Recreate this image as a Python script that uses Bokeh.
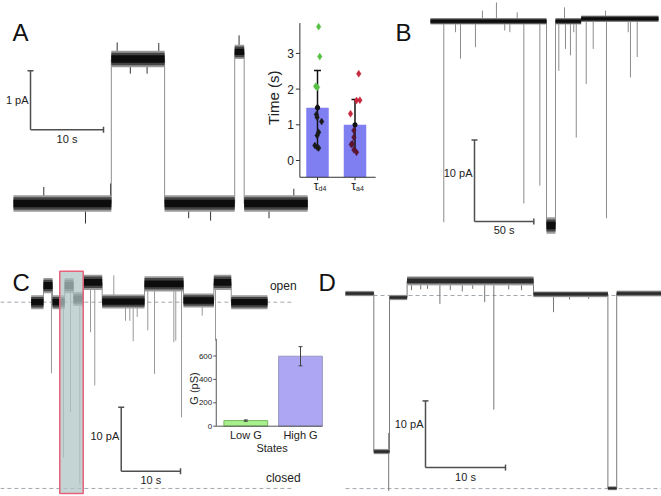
import numpy as np
from bokeh.plotting import figure
from bokeh.models import Range1d
from bokeh.core.properties import value
from bokeh.embed import file_html
from bokeh.resources import INLINE

FONT = "Liberation Sans"

# ======================= DATA =======================
# ---- Panel A: current trace as step levels (time s, current pA)
a_seg_start = [0.0, 13.4, 20.7, 30.3, 31.6]
a_seg_end = [13.4, 20.7, 30.3, 31.6, 40.3]
a_seg_level = [0.0, 2.45, 0.0, 2.57, 0.0]
a_seg_noise = [0.14, 0.14, 0.14, 0.12, 0.14]
a_spike_t = [4.15, 9.86, 13.3, 14.2, 16.0, 18.3, 19.9, 24.0, 27.0, 30.9, 35.0, 38.4]
a_spike_tip = [0.28, -0.34, 0.34, 2.73, 2.2, 2.2, 2.72, -0.25, -0.29, 2.85, -0.25, 0.25]

# ---- Panel A inset: dwell times (s)
a_groups = ["d4", "a4"]
a_mean = [1.48, 1.00]
a_sd = [1.04, 0.71]
a_d4_val = [3.75, 2.91, 2.08, 2.05, 1.49, 1.29, 1.21, 1.09, 0.79, 0.70, 0.42, 0.37, 0.35]
a_d4_jit = [0.03, 0.06, -0.05, 0.0, 0.0, -0.03, -0.01, 0.11, 0.03, -0.01, -0.07, -0.01, 0.03]
a_a4_val = [2.43, 1.68, 1.69, 1.31, 0.84, 0.65, 0.47, 0.45, 0.30, 0.23]
a_a4_jit = [0.10, 0.04, 0.13, -0.12, -0.03, -0.03, -0.07, -0.10, -0.03, 0.04]
a_ticks = [0, 1, 2, 3]

# ---- Panel B: trace (time s, current pA)
b_seg_start = [0.0, 97.8, 105.4, 127.0]
b_seg_end = [97.8, 105.4, 127.0, 192.2]
b_seg_level = [0.0, -25.1, 0.0, 0.3]
b_seg_noise = [0.4, 1.0, 0.4, 0.4]
b_spike_t = [11.2, 21.1, 25.3, 37.9, 43.8, 55.6, 62.6, 66.9, 73.1, 78.7, 92.2, 108.2,
             113.0, 113.8, 118.0, 120.8, 122.9, 131.3, 137.2, 147.6, 148.4, 166.7, 168.6, 174.3]
b_spike_tip = [-24.7, -1.35, -4.6, -3.2, 1.3, 2.3, -1.15, -1.35, 1.1, -22.4, -20.2, -6.1,
               1.7, -3.4, -4.2, -1.35, -14.3, -7.7, -3.4, 1.3, -24.2, -1.35, -6.9, -4.4]

# ---- Panel C: trace (time s, current pA)
c_seg_start = [0.0, 2.07, 3.59, 5.64, 7.13, 8.77, 11.97, 19.11, 25.68, 30.8, 33.73]
c_seg_end = [2.07, 3.59, 5.64, 7.13, 8.77, 11.97, 19.11, 25.68, 30.8, 33.73, 39.85]
c_seg_level = [0.0, 2.6, 0.0, 2.6, 0.5, 3.1, 0.1, 2.87, 0.27, 3.1, 0.0]
c_seg_noise = [1.1, 1.2, 1.1, 1.2, 1.1, 1.2, 1.1, 1.2, 1.1, 1.2, 1.1]
c_spike_t = [3.42, 5.45, 6.63, 8.2, 10.0, 10.72, 13.93, 15.9, 16.63, 17.2, 17.88, 19.66,
             20.79, 24.05, 24.38, 25.35, 28.84, 31.08]
c_spike_tip = [-11.1, -24.3, -17.2, -28.5, -4.7, -13.0, 4.2, -2.9, -2.9, -6.1, -2.3, -4.4,
               -11.2, -6.25, -6.0, -18.0, -2.1, -6.0]
c_open, c_closed = 0.0, -29.1
c_hl_t = [4.82, 8.77]
c_hl_i = [-29.9, 4.84]

# ---- Panel C inset: conductance states
c_states = ["Low G", "High G"]
c_cond = [48, 598]
c_cond_err = [6, 82]
c_ticks = [0, 200, 400, 600]

# ---- Panel D: trace (time s, current pA)
d_seg_start = [0.0, 3.54, 5.5, 7.7, 23.5, 32.8, 33.9]
d_seg_end = [3.54, 5.5, 7.7, 23.5, 32.8, 33.9, 39.5]
d_seg_level = [0.3, -23.4, -0.3, 2.2, 0.2, -28.9, 0.3]
d_seg_noise = [0.4, 0.4, 0.4, 0.7, 0.45, 0.3, 0.45]
d_spike_t = [5.4, 5.4, 8.25, 9.4, 10.25, 11.8, 13.1, 14.6, 15.9, 17.4, 18.54, 20.4, 22.0,
             26.0, 28.0, 30.4]
d_spike_tip = [-29.3, -20.6, 0.8, 0.9, 1.0, -1.25, 0.8, 0.6, 1.0, -1.0, -17.1, 0.9, 0.8,
               -2.5, -0.6, -0.5]
d_open, d_closed = 0.0, -28.95

# ======================= LAYOUT =======================
W, H = 661, 496
X0, Y0 = 0, 0  # page offset of the frame (template has no body margin)


def xr(px0, pps):
    return Range1d((X0 - px0) / pps, (X0 + W - px0) / pps)


def yr(py0, ppu):
    return Range1d((py0 - (Y0 + H)) / ppu, (py0 - Y0) / ppu)


GEOM = {
    "a": (13, 7.3, 203, 59.0),
    "ia": (317, 37.5, 160, 35.7),
    "b": (430, 1.186, 20.7, 8.14),
    "c": (30.7, 5.93, 301.7, 6.4),
    "ic": (245.3, 54.7, 425.7, 0.117),
    "d": (345, 8.0, 295, 6.67),
}

p = figure(width=W, height=H, x_range=Range1d(X0, X0 + W), y_range=Range1d(Y0 + H, Y0),
           output_backend="svg", toolbar_location=None, min_border=0,
           x_axis_location=None, y_axis_location=None)
p.grid.visible = False
p.outline_line_color = None
p.background_fill_color = "white"
p.border_fill_color = "white"
p.extra_x_ranges = {k: xr(g[0], g[1]) for k, g in GEOM.items()}
p.extra_y_ranges = {k: yr(g[2], g[3]) for k, g in GEOM.items()}


def R(n):
    return dict(x_range_name=n, y_range_name=n)


def txt(rn, x, y, t, size, **kw):
    kw.setdefault("text_color", "#222222")
    if rn is None:
        p.text(x=x, y=y, text=t, text_font=value(FONT), text_font_size=size, **kw)
    else:
        p.text(x=x, y=y, text=t, text_font=value(FONT), text_font_size=size, **R(rn), **kw)


def draw_trace(rn, starts, ends, levels, noise, spike_t, spike_tip,
               core="#0d0d0d", mid="#444444", edge="#9a9a9a", step="#8f8f8f",
               spike_col="#8c8c8c"):
    s = np.asarray(starts, float)
    e = np.asarray(ends, float)
    lv = np.asarray(levels, float)
    n = np.asarray(noise, float)
    st = np.asarray(spike_t, float)
    idx = np.clip(np.searchsorted(e, st), 0, len(lv) - 1)
    base = lv[idx]
    p.segment(x0=st, y0=base, x1=st, y1=spike_tip, line_color=spike_col, line_width=1, **R(rn))
    p.segment(x0=e[:-1], y0=lv[:-1], x1=e[:-1], y1=lv[1:], line_color=step, line_width=1, **R(rn))
    for frac, col in ((1.0, edge), (0.75, mid), (0.45, core)):
        p.quad(left=s, right=e, bottom=lv - frac * n, top=lv + frac * n, fill_color=col,
               line_color=None, **R(rn))


def scalebar(rn, t0, i0, dt, di, tlabel, ilabel, idy=0):
    col = "#4f4f4f"
    p.segment(x0=[t0, t0], y0=[i0, i0], x1=[t0 + dt, t0], y1=[i0, i0 + di],
              line_color=col, line_width=1.5, **R(rn))
    p.scatter(x=[t0 + dt], y=[i0], marker="dash", angle=np.pi / 2, size=6,
              line_color=col, line_width=1.5, **R(rn))
    p.scatter(x=[t0], y=[i0 + di], marker="dash", size=6, line_color=col, line_width=1.5, **R(rn))
    txt(rn, [t0], [i0 + di / 2], [ilabel], "11px", x_offset=-2, y_offset=idy,
        text_align="right", text_baseline="middle")
    txt(rn, [t0 + dt / 2], [i0], [tlabel], "11px", y_offset=3,
        text_align="center", text_baseline="top")


# ---------------- Panel letters ----------------
txt(None, [12, 395, 12, 318], [32, 32, 282, 282], ["A", "B", "C", "D"], "24px",
    text_align="left", text_baseline="alphabetic", text_color="#111111")

# ---------------- Panel A ----------------
draw_trace("a", a_seg_start, a_seg_end, a_seg_level, a_seg_noise, a_spike_t, a_spike_tip,
           spike_col="#333333")
scalebar("a", 2.33, 1.25, 10, 1, "10 s", "1 pA")

# ---------------- Panel A inset ----------------
ia = "ia"
IA_KMIN, IA_KMAX, IA_YMIN, IA_YMAX = -0.47, 1.55, -0.47, 3.85
k = [0, 1]
p.vbar(x=k, top=a_mean, bottom=IA_YMIN, width=0.6, fill_color="#7f7ff2", line_color=None, **R(ia))
lo = [m - s for m, s in zip(a_mean, a_sd)]
hi = [m + s for m, s in zip(a_mean, a_sd)]
p.segment(x0=k, y0=lo, x1=k, y1=hi, line_color="#111111", line_width=1.5, **R(ia))
p.scatter(x=k, y=hi, marker="dash", size=7, line_color="#111111", line_width=1.5, **R(ia))
d4_col = ["#58c046" if v > 1.9 else "#1a1a1a" for v in a_d4_val]
a4_col = ["#c8283f" if v > 1.2 else "#5a1530" for v in a_a4_val]
p.scatter(x=[0 + j for j in a_d4_jit], y=a_d4_val, marker="diamond", size=7,
          fill_color=d4_col, line_color=d4_col, line_alpha=0.4, **R(ia))
p.scatter(x=[1 + j for j in a_a4_jit], y=a_a4_val, marker="diamond", size=7,
          fill_color=a4_col, line_color=a4_col, line_alpha=0.4, **R(ia))
p.scatter(x=k, y=a_mean, marker="circle", size=5, fill_color="#111111", line_color=None, **R(ia))
# axes
p.segment(x0=[IA_KMIN, IA_KMIN], y0=[IA_YMIN, IA_YMIN], x1=[IA_KMIN, IA_KMAX], y1=[IA_YMAX, IA_YMIN],
          line_color="#333333", line_width=1, **R(ia))
tk = 4 / GEOM[ia][1]
p.segment(x0=[IA_KMIN - tk] * len(a_ticks), y0=a_ticks, x1=[IA_KMIN] * len(a_ticks), y1=a_ticks,
          line_color="#333333", line_width=1, **R(ia))
txt(ia, [IA_KMIN] * len(a_ticks), a_ticks, [str(t) for t in a_ticks], "12px",
    x_offset=-6, text_align="right", text_baseline="middle")
tv = 3 / GEOM[ia][3]
p.segment(x0=k, y0=[IA_YMIN] * 2, x1=k, y1=[IA_YMIN - tv] * 2, line_color="#333333",
          line_width=1, **R(ia))
txt(ia, k, [IA_YMIN] * 2, ["τ", "τ"], "12px", x_offset=1, y_offset=2,
    text_align="right", text_baseline="top")
txt(ia, k, [IA_YMIN] * 2, a_groups, "7px", x_offset=1, y_offset=8,
    text_align="left", text_baseline="top")
txt(ia, [IA_KMIN], [1.76], ["Time (s)"], "15px", x_offset=-26, angle=np.pi / 2,
    text_align="center", text_baseline="middle")

# ---------------- Panel B ----------------
draw_trace("b", b_seg_start, b_seg_end, b_seg_level, b_seg_noise, b_spike_t, b_spike_tip)
scalebar("b", 37.1, -24.6, 50, 10, "50 s", "10 pA", idy=-8)

# ---------------- Panel C ----------------
p.segment(x0=[-5.2, -5.2], y0=[c_open, c_closed], x1=[44.2, 44.2], y1=[c_open, c_closed],
          line_color="#a0a8b0", line_width=1, line_dash="4 3", **R("c"))
draw_trace("c", c_seg_start, c_seg_end, c_seg_level, c_seg_noise, c_spike_t, c_spike_tip,
           spike_col="#999999")
p.quad(left=[c_hl_t[0]], right=[c_hl_t[1]], bottom=[c_hl_i[0]], top=[c_hl_i[1]],
       fill_color="#b0c4c4", fill_alpha=0.75, line_color="#e8607a", line_width=1.5, **R("c"))
scalebar("c", 15.18, -26.4, 10, 10, "10 s", "10 pA", idy=-3)
txt("c", [42.5], [c_open], ["open"], "12px", y_offset=-16, text_align="center",
    text_baseline="middle")
txt("c", [42.5], [c_closed], ["closed"], "12px", y_offset=-10, text_align="center",
    text_baseline="middle")

# ---------------- Panel C inset ----------------
ic = "ic"
IC_KMIN, IC_KMAX, IC_YMAX = -0.54, 1.40, 747
kc = [0, 1]
p.vbar(x=kc, top=c_cond, bottom=0, width=0.8, fill_color=["#a8f08c", "#aca6f3"],
       line_color=["#78b862", "#9a98c0"], line_width=1, **R(ic))
c_lo = [c - e for c, e in zip(c_cond, c_cond_err)]
c_hi = [c + e for c, e in zip(c_cond, c_cond_err)]
p.segment(x0=kc, y0=c_lo, x1=kc, y1=c_hi, line_color="#444444", line_width=1, **R(ic))
p.scatter(x=kc + kc, y=c_lo + c_hi, marker="dash", size=4, line_color="#444444", line_width=1, **R(ic))
p.segment(x0=[IC_KMIN, IC_KMIN], y0=[0, 0], x1=[IC_KMIN, IC_KMAX], y1=[IC_YMAX, 0],
          line_color="#555555", line_width=1, **R(ic))
tkc = 3 / GEOM[ic][1]
p.segment(x0=[IC_KMIN - tkc] * len(c_ticks), y0=c_ticks, x1=[IC_KMIN] * len(c_ticks), y1=c_ticks,
          line_color="#555555", line_width=1, **R(ic))
txt(ic, [IC_KMIN] * len(c_ticks), c_ticks, [str(t) for t in c_ticks], "8px",
    x_offset=-4, text_align="right", text_baseline="middle")
txt(ic, kc, [0, 0], c_states, "11px", y_offset=3, text_align="center", text_baseline="top")
txt(ic, [0.48], [0], ["States"], "11px", y_offset=16, text_align="center", text_baseline="top")
txt(ic, [IC_KMIN], [322], ["G (pS)"], "11px", x_offset=-22, angle=np.pi / 2,
    text_align="center", text_baseline="middle")

# ---------------- Panel D ----------------
p.segment(x0=[0, 0], y0=[d_open, d_closed], x1=[40.0, 40.0], y1=[d_open, d_closed],
          line_color="#a0a8b0", line_width=1, line_dash="4 3", **R("d"))
draw_trace("d", d_seg_start, d_seg_end, d_seg_level, d_seg_noise, d_spike_t, d_spike_tip,
           core="#2a2a2a", mid="#666666", edge="#b0b0b0", step="#7a7a7a", spike_col="#777777")
scalebar("d", 10.0, -25.8, 10, 10, "10 s", "10 pA", idy=-10)

open("out.html", "w").write(file_html(p, INLINE))
